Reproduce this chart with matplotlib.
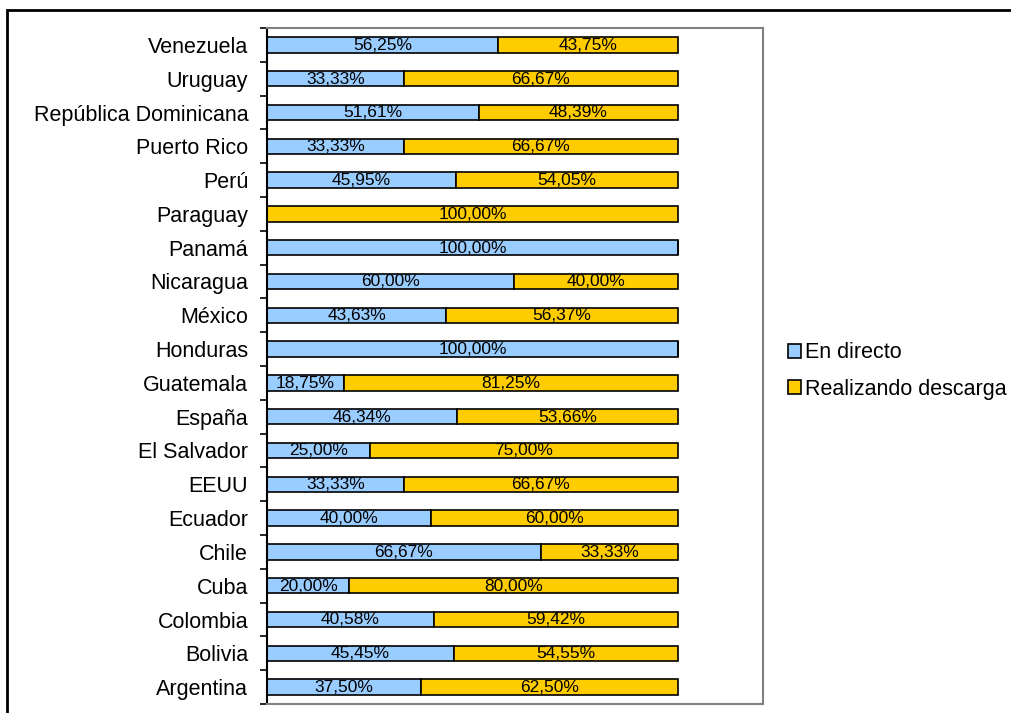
import matplotlib.pyplot as plt
import numpy as np
from matplotlib.patches import Rectangle

plt.rcParams["font.family"] = ["Liberation Sans", "DejaVu Sans"]

# bottom to top, as drawn
countries = [
    "Argentina", "Bolivia", "Colombia", "Cuba", "Chile", "Ecuador", "EEUU",
    "El Salvador", "España", "Guatemala", "Honduras", "México", "Nicaragua",
    "Panamá", "Paraguay", "Perú", "Puerto Rico", "República Dominicana",
    "Uruguay", "Venezuela",
]
en_directo = [37.50, 45.45, 40.58, 20.00, 66.67, 40.00, 33.33, 25.00, 46.34, 18.75,
              100.00, 43.63, 60.00, 100.00, 0.00, 45.95, 33.33, 51.61, 33.33, 56.25]
descarga = [62.50, 54.55, 59.42, 80.00, 33.33, 60.00, 66.67, 75.00, 53.66, 81.25,
            0.00, 56.37, 40.00, 0.00, 100.00, 54.05, 66.67, 48.39, 66.67, 43.75]

BLUE = "#99CCFF"
GOLD = "#FFCC00"


def fmt(v):
    return f"{v:.2f}%".replace(".", ",")


fig = plt.figure(figsize=(10.12, 7.13), dpi=100)
ax = fig.add_axes([267 / 1012, 1 - 704 / 713, 496 / 1012, 676 / 713])

y = np.arange(len(countries))
b1 = ax.barh(y, en_directo, height=0.45, color=BLUE, edgecolor="black",
             linewidth=1.2, label="En directo")
b2 = ax.barh(y, descarga, left=en_directo, height=0.45, color=GOLD,
             edgecolor="black", linewidth=1.2, label="Realizando descarga")

for i in range(len(countries)):
    if en_directo[i] > 0:
        ax.text(en_directo[i] / 2, y[i] - 0.01, fmt(en_directo[i]), ha="center",
                va="center", fontsize=12.5)
    if descarga[i] > 0:
        ax.text(en_directo[i] + descarga[i] / 2, y[i] - 0.01, fmt(descarga[i]),
                ha="center", va="center", fontsize=12.5)

ax.set_xlim(0, 120.7)
ax.set_ylim(-0.5, len(countries) - 0.5)
ax.set_xticks([])
ax.set_yticks(y)
ax.set_yticklabels(countries, fontsize=15.5)
ax.set_yticks(np.arange(-0.5, len(countries)), minor=True)
ax.tick_params(axis="y", which="major", length=0, pad=13.5)
ax.tick_params(axis="y", which="minor", length=5, width=1.2, color="black")

for side in ["top", "right", "bottom"]:
    ax.spines[side].set_color("#808080")
    ax.spines[side].set_linewidth(1.5)
ax.spines["left"].set_color("black")
ax.spines["left"].set_linewidth(1.5)

# outer chart frame (cut off at right and bottom)
fig.patches.append(Rectangle((7 / 1012, -0.1), 1.2, 1.1 - 10 / 713, fill=False,
                             edgecolor="black", linewidth=2,
                             transform=fig.transFigure))

fig.legend(handles=[b1, b2], loc="center left",
           bbox_to_anchor=(769 / 1012, 1 - 371 / 713), frameon=False,
           fontsize=15.5, handlelength=0.6, handleheight=0.6, handletextpad=0.15,
           labelspacing=0.7)

fig.savefig("out.png", dpi=100)
